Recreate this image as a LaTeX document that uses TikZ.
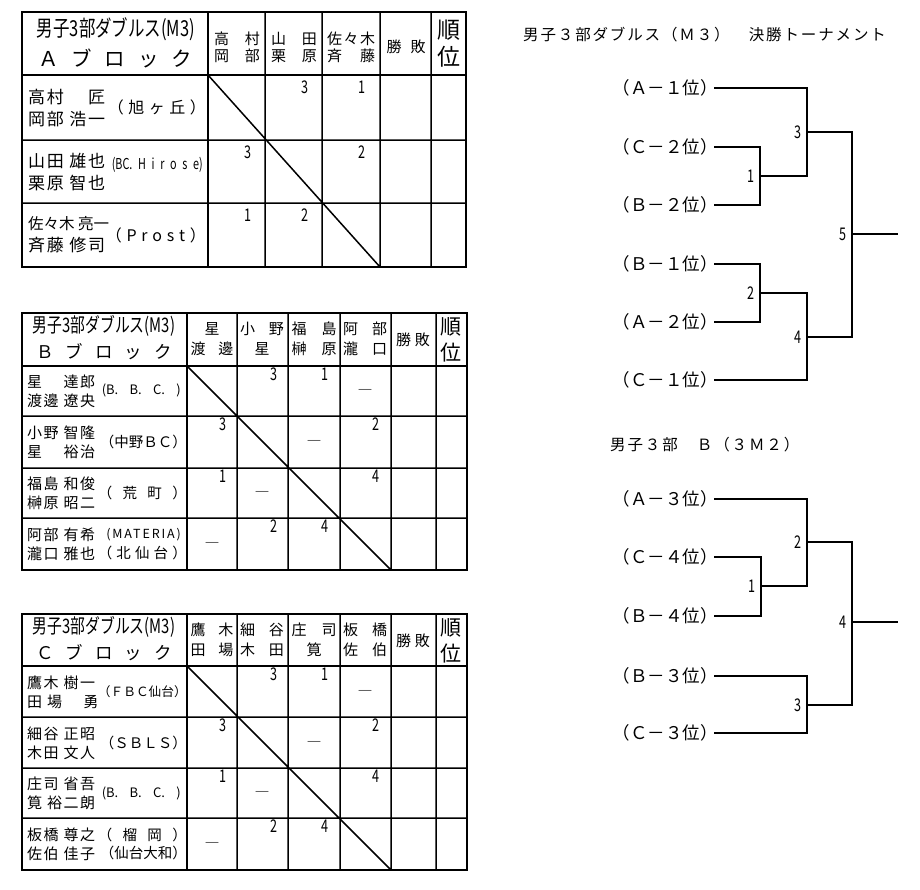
\documentclass[tikz,border=0pt]{standalone}
\usepackage{fontspec}
\usepackage{graphicx}
\setmainfont{Noto Sans CJK JP}
\newfontfamily\jp{Noto Sans CJK JP}
\newfontfamily\jpc[FakeStretch=0.72]{Noto Sans CJK JP}
\newfontfamily\jps[LetterSpace=10]{Noto Sans CJK JP}
\newfontfamily\jpt[LetterSpace=12]{Noto Sans CJK JP}
\newfontfamily\jpw[LetterSpace=15]{Noto Sans CJK JP}

\begin{document}
\begin{tikzpicture}[x=1pt, y=-1pt,
  frame/.style={line width=2.8pt},
  rule/.style={line width=1.5pt},
  bline/.style={line width=1.4pt},
  head/.style={inner sep=0pt, font=\jp\fontsize{20}{20}\selectfont},
  blk/.style={inner sep=0pt, font=\jp\fontsize{17.5}{17.5}\selectfont},
  colh/.style={inner sep=0pt, align=center, font=\jp\fontsize{15}{20}\selectfont},
  rank/.style={inner sep=0pt, align=center, font=\jp\fontsize{21}{26}\selectfont},
  pname/.style={anchor=west, inner sep=0pt, align=left, font=\jps\fontsize{15}{19}\selectfont},
  team/.style={anchor=east, inner sep=0pt, font=\jp\fontsize{14.5}{14.5}\selectfont},
  score/.style={inner sep=0pt, font=\jpc\fontsize{17.5}{17.5}\selectfont},
  nomatch/.style={inner sep=0pt, font=\jp\fontsize{15}{15}\selectfont},
  seed/.style={anchor=east, inner sep=0pt, font=\jp\fontsize{17.5}{17.5}\selectfont},
  ttl/.style={anchor=west, inner sep=0pt, font=\jpt\fontsize{15.5}{15.5}\selectfont}]

\useasboundingbox (0,0) rectangle (920,889);

% A block
\draw[rule] (265,12) -- (265,267) (322,12) -- (322,267) (380,12) -- (380,267) (431,12) -- (431,267)
  (22,140) -- (466,140) (22,203) -- (466,203) (208,75) -- (380,267);
\draw[frame] (22,12) rectangle (466,267) (22,75) -- (466,75) (208,12) -- (208,267);
\node[head, font=\jp\fontsize{22}{22}\selectfont] (hA) at (116,29) {\resizebox{158pt}{\height}{男子3部ダブルス(M3)}};
\node[blk, font=\jp\fontsize{20.5}{20.5}\selectfont] (bA) at (115,58) {\makebox[154pt]{Ａ\hfill ブ\hfill ロ\hfill ッ\hfill ク}};
\node[colh, font=\jp\fontsize{15}{17}\selectfont] (cA1) at (237,47) {\makebox[46pt]{高\hfill 村}\\\makebox[46pt]{岡\hfill 部}};
\node[colh, font=\jp\fontsize{15}{17}\selectfont] (cA2) at (294,47) {\makebox[46pt]{山\hfill 田}\\\makebox[46pt]{栗\hfill 原}};
\node[colh, font=\jp\fontsize{15}{17}\selectfont] (cA3) at (351,47) {\makebox[48pt]{佐\hfill 々\hfill 木}\\\makebox[48pt]{斉\hfill 藤}};
\node[colh] (wlA) at (406,47) {\makebox[39pt]{勝\hfill 敗}};
\node[rank, font=\jp\fontsize{23}{27}\selectfont] (rkA) at (449,44) {順\\位};
\node[pname, font=\jps\fontsize{17}{22}\selectfont] (pA1) at (28,108) {高村　 匠\\岡部 浩一};
\node[pname, font=\jps\fontsize{17}{22}\selectfont] (pA2) at (28,172) {山田 雄也\\栗原 智也};
\node[pname, font=\jps\fontsize{17}{22}\selectfont] (pA3) at (28,235) {{\jp\fontsize{15.5}{22}\selectfont 佐々木 亮一}\\斉藤 修司};
\node[team, font=\jp\fontsize{16}{16}\selectfont] (tA1) at (206,107) {\makebox[98pt][s]{（ 旭 ヶ 丘 ）}};
\node[team, font=\jpc\fontsize{15}{15}\selectfont] (tA2) at (203,165) {\makebox[91pt][s]{(BC. H i r o s e)}};
\node[team, font=\jp\fontsize{16}{16}\selectfont] (tA3) at (206,235) {\makebox[100pt][s]{（ P r o s t ）}};
\node[score] (sA12) at (305,87) {3};
\node[score] (sA13) at (362,87) {1};
\node[score] (sA21) at (248,152) {3};
\node[score] (sA23) at (362,152) {2};
\node[score] (sA31) at (248,215) {1};
\node[score] (sA32) at (305,215) {2};

% B block
\draw[rule] (237,313) -- (237,570) (288,313) -- (288,570) (340,313) -- (340,570) (391,313) -- (391,570) (436,313) -- (436,570)
  (22,416) -- (467,416) (22,468) -- (467,468) (22,518) -- (467,518) (187,366) -- (391,570);
\draw[frame] (22,313) rectangle (467,570) (22,366) -- (467,366) (187,313) -- (187,570);
\node[head] (hB) at (104,326) {\resizebox{142pt}{\height}{男子3部ダブルス(M3)}};
\node[blk] (bB) at (104,352) {\makebox[136pt]{Ｂ\hfill ブ\hfill ロ\hfill ッ\hfill ク}};
\node[colh] (cB1) at (212,339) {星\\\makebox[43pt]{渡\hfill 邊}};
\node[colh] (cB2) at (262,339) {\makebox[44pt]{小\hfill 野}\\星};
\node[colh] (cB3) at (314,339) {\makebox[45pt]{福\hfill 島}\\\makebox[45pt]{榊\hfill 原}};
\node[colh] (cB4) at (365,339) {\makebox[44pt]{阿\hfill 部}\\\makebox[44pt]{瀧\hfill 口}};
\node[colh] (wlB) at (413,340) {\makebox[34pt]{勝\hfill 敗}};
\node[rank] (rkB) at (451,340) {順\\位};
\node[pname] (pB1) at (27,391) {星　 達郎\\渡邊 遼央};
\node[pname] (pB2) at (27,442) {小野 智隆\\星　 裕治};
\node[pname] (pB3) at (27,493) {福島 和俊\\榊原 昭二};
\node[pname] (pB4) at (27,544) {阿部 有希\\瀧口 雅也};
\node[team, font=\jp\fontsize{13}{13}\selectfont] (tB1) at (181,390) {\makebox[79pt][s]{(B. B. C. )}};
\node[team] (tB2) at (187,442) {（中野ＢＣ）};
\node[team] (tB3) at (187,493) {\makebox[89pt][s]{（ 荒 町 ）}};
\node[team, font=\jpw\fontsize{12.5}{12.5}\selectfont] (tB4) at (181,535) {(MATERIA)};
\node[team] (tB5) at (187,553) {\makebox[89pt][s]{（ 北 仙 台 ）}};
\node[score] (sB12) at (274,374) {3};
\node[score] (sB13) at (325,374) {1};
\node[nomatch] (dB14) at (365,392) {―};
\node[score] (sB21) at (223,424) {3};
\node[nomatch] (dB23) at (314,443) {―};
\node[score] (sB24) at (376,424) {2};
\node[score] (sB31) at (223,476) {1};
\node[nomatch] (dB32) at (262,494) {―};
\node[score] (sB34) at (376,476) {4};
\node[nomatch] (dB41) at (212,545) {―};
\node[score] (sB42) at (274,526) {2};
\node[score] (sB43) at (325,526) {4};

% C block
\draw[rule] (237,614) -- (237,870) (288,614) -- (288,870) (340,614) -- (340,870) (391,614) -- (391,870) (436,614) -- (436,870)
  (22,717) -- (467,717) (22,768) -- (467,768) (22,818) -- (467,818) (187,666) -- (391,870);
\draw[frame] (22,614) rectangle (467,870) (22,666) -- (467,666) (187,614) -- (187,870);
\node[head] (hC) at (104,627) {\resizebox{142pt}{\height}{男子3部ダブルス(M3)}};
\node[blk] (bC) at (104,653) {\makebox[136pt]{Ｃ\hfill ブ\hfill ロ\hfill ッ\hfill ク}};
\node[colh] (cC1) at (212,640) {\makebox[43pt]{鷹\hfill 木}\\\makebox[43pt]{田\hfill 場}};
\node[colh] (cC2) at (262,640) {\makebox[44pt]{細\hfill 谷}\\\makebox[44pt]{木\hfill 田}};
\node[colh] (cC3) at (314,640) {\makebox[45pt]{庄\hfill 司}\\筧};
\node[colh] (cC4) at (365,640) {\makebox[44pt]{板\hfill 橋}\\\makebox[44pt]{佐\hfill 伯}};
\node[colh] (wlC) at (413,641) {\makebox[34pt]{勝\hfill 敗}};
\node[rank] (rkC) at (451,641) {順\\位};
\node[pname] (pC1) at (27,692) {鷹木 樹一\\田 場　 勇};
\node[pname] (pC2) at (27,743) {細谷 正昭\\木田 文人};
\node[pname] (pC3) at (27,793) {庄司 省吾\\筧 裕二朗};
\node[pname] (pC4) at (27,844) {板橋 尊之\\佐伯 佳子};
\node[team, font=\jp\fontsize{12.7}{12.7}\selectfont] (tC1) at (187,692) {（ＦＢＣ仙台）};
\node[team] (tC2) at (187,743) {（ＳＢＬＳ）};
\node[team, font=\jp\fontsize{13}{13}\selectfont] (tC3) at (181,793) {\makebox[79pt][s]{(B. B. C. )}};
\node[team] (tC4) at (187,835) {\makebox[89pt][s]{（ 榴 岡 ）}};
\node[team] (tC5) at (187,853) {（仙台大和）};
\node[score] (sC12) at (274,674) {3};
\node[score] (sC13) at (325,674) {1};
\node[nomatch] (dC14) at (365,693) {―};
\node[score] (sC21) at (223,725) {3};
\node[nomatch] (dC23) at (314,744) {―};
\node[score] (sC24) at (376,725) {2};
\node[score] (sC31) at (223,776) {1};
\node[nomatch] (dC32) at (262,794) {―};
\node[score] (sC34) at (376,776) {4};
\node[nomatch] (dC41) at (212,845) {―};
\node[score] (sC42) at (274,826) {2};
\node[score] (sC43) at (325,826) {4};

% final bracket
\node[ttl] (T1) at (523,35) {男子３部ダブルス（Ｍ３）　決勝トーナメント};
\node[seed] (a1) at (718,88) {（Ａ－１位）};
\node[seed] (a2) at (718,147) {（Ｃ－２位）};
\node[seed] (a3) at (718,205) {（Ｂ－２位）};
\node[seed] (a4) at (718,264) {（Ｂ－１位）};
\node[seed] (a5) at (718,322) {（Ａ－２位）};
\node[seed] (a6) at (718,380) {（Ｃ－１位）};
\coordinate (m1) at (760,176);
\coordinate (m2) at (760,293);
\coordinate (m3) at (807,132);
\coordinate (m4) at (807,337);
\coordinate (m5) at (852,234);
\coordinate (w5) at (898,234);
\draw[bline] ([xshift=-4pt]a2.east) -| (m1) |- ([xshift=-4pt]a3.east);
\draw[bline] ([xshift=-4pt]a1.east) -| (m3) |- (m1);
\draw[bline] ([xshift=-4pt]a4.east) -| (m2) |- ([xshift=-4pt]a5.east);
\draw[bline] (m2) -| (m4) |- ([xshift=-4pt]a6.east);
\draw[bline] (m3) -| (m5) |- (m4);
\draw[bline] (m5) -- (w5);
\node[score, left=5pt] (g1) at (m1) {1};
\node[score, left=5pt] (g2) at (m2) {2};
\node[score, left=5pt] (g3) at (m3) {3};
\node[score, left=5pt] (g4) at (m4) {4};
\node[score, left=5pt] (g5) at (m5) {5};

% B bracket
\node[ttl] (T2) at (610,445) {男子３部　Ｂ（３Ｍ２）};
\node[seed] (b1) at (718,499) {（Ａ－３位）};
\node[seed] (b2) at (718,557) {（Ｃ－４位）};
\node[seed] (b3) at (718,616) {（Ｂ－４位）};
\node[seed] (b4) at (718,676) {（Ｂ－３位）};
\node[seed] (b5) at (718,733) {（Ｃ－３位）};
\coordinate (k1) at (761,586);
\coordinate (k2) at (807,542);
\coordinate (k3) at (807,705);
\coordinate (k4) at (852,622);
\coordinate (w4) at (898,622);
\draw[bline] ([xshift=-4pt]b2.east) -| (k1) |- ([xshift=-4pt]b3.east);
\draw[bline] ([xshift=-4pt]b1.east) -| (k2) |- (k1);
\draw[bline] ([xshift=-4pt]b4.east) -| (k3) |- ([xshift=-4pt]b5.east);
\draw[bline] (k2) -| (k4) |- (k3);
\draw[bline] (k4) -- (w4);
\node[score, left=5pt] (h1) at (k1) {1};
\node[score, left=5pt] (h2) at (k2) {2};
\node[score, left=5pt] (h3) at (k3) {3};
\node[score, left=5pt] (h4) at (k4) {4};
\end{tikzpicture}
\end{document}
